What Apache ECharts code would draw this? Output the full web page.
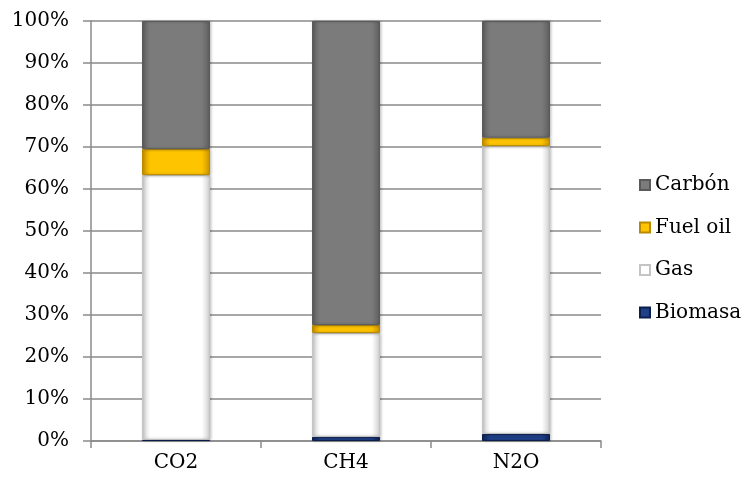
<!DOCTYPE html>
<html>
<head>
<meta charset="utf-8">
<script src="https://cdn.jsdelivr.net/npm/echarts@6/dist/echarts.min.js"></script>
<style>
  html, body { margin: 0; padding: 0; background: #fff; }
  #chart { width: 748px; height: 480px; }
</style>
</head>
<body>
<div id="chart"></div>
<script>
// categories and stacked shares (%)
const categories = ['CO2', 'CH4', 'N2O']
const biomasa = [0.3, 1.0, 1.7]
const gas = [63.0, 24.7, 68.5]
const fuelOil = [6.2, 1.9, 2.0]
const carbon = [30.5, 72.4, 27.8]

const FONT = 'DejaVu Serif'

// bevel-ish fill: darker at the sides, lighter in the middle
function bevel (edge, mid) {
  return new echarts.graphic.LinearGradient(0, 0, 1, 0, [
    { offset: 0, color: edge },
    { offset: 0.12, color: mid },
    { offset: 0.88, color: mid },
    { offset: 1, color: edge }
  ])
}

function makeSeries (name, data, edge, mid, border) {
  return {
    name: name,
    type: 'bar',
    stack: 'total',
    barWidth: '40%',
    data: data,
    itemStyle: {
      color: bevel(edge, mid),
      borderColor: border,
      borderWidth: 1,
      shadowColor: 'rgba(0,0,0,0.25)',
      shadowBlur: 3,
      shadowOffsetX: 1
    },
    emphasis: { disabled: true }
  }
}

const chart = echarts.init(document.getElementById('chart'))
chart.setOption({
  animation: false,
  textStyle: { fontFamily: FONT },
  grid: { left: 91, right: 147, top: 21, bottom: 39 },
  legend: {
    orient: 'vertical',
    left: 634,
    top: 170,
    itemGap: 22.5,
    itemWidth: 10,
    itemHeight: 10,
    icon: 'rect',
    data: ['Carbón', 'Fuel oil', 'Gas', 'Biomasa'],
    textStyle: { fontFamily: FONT, fontSize: 20, color: '#000' }
  },
  xAxis: {
    type: 'category',
    data: categories,
    axisLine: { lineStyle: { color: '#8a8a8a', width: 1.5 } },
    axisTick: { show: true, length: 7, lineStyle: { color: '#8a8a8a', width: 1.5 } },
    axisLabel: { fontFamily: FONT, fontSize: 20, color: '#000', margin: 12 }
  },
  yAxis: {
    type: 'value',
    min: 0,
    max: 100,
    interval: 10,
    axisLine: { show: true, lineStyle: { color: '#8a8a8a', width: 1.5 } },
    axisTick: { show: true, length: 8, lineStyle: { color: '#8a8a8a', width: 1.5 } },
    axisLabel: { fontFamily: FONT, fontSize: 20, color: '#000', margin: 22, formatter: '{value}%' },
    splitLine: { show: true, lineStyle: { color: '#8a8a8a', width: 1.5 } }
  },
  series: [
    makeSeries('Biomasa', biomasa, '#0d2458', '#1f3f86', '#0b1f4d'),
    makeSeries('Gas', gas, '#cfcfcf', '#ffffff', '#c4c4c4'),
    makeSeries('Fuel oil', fuelOil, '#c99400', '#ffc400', '#b88a00'),
    makeSeries('Carbón', carbon, '#5e5e5e', '#7b7b7b', '#5a5a5a')
  ]
})
</script>
</body>
</html>
